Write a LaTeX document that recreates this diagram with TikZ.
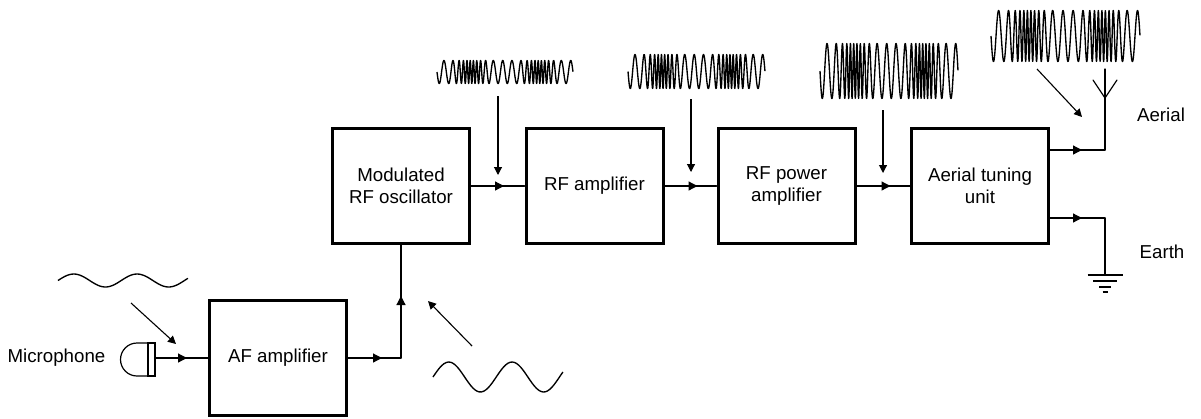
\documentclass[tikz,border=0pt]{standalone}
\usepackage{fontspec}
\setmainfont{Liberation Sans}
\usetikzlibrary{arrows.meta, positioning, calc, decorations.markings}
\tikzset{
  block/.style={draw, line width=3pt, minimum width=137pt, minimum height=115pt, align=center, inner sep=0pt},
  flowline/.style={line width=1.2pt, line cap=round, postaction={decorate},
    decoration={markings, mark=at position #1 with {\arrow{Triangle[length=9pt,width=9pt]}}}},
  wire/.style={line width=1.2pt, line cap=round},
  pointer/.style={line width=1.1pt, -{Triangle[length=8pt,width=8pt]}},
  signal/.style={line width=1.35pt, line join=round}
}
% modulated carrier between x=#1 and x=#2, centred on y=#3, amplitude #4
\newcommand{\rfwave}[4]{
  \draw[signal] plot[domain=0:1, samples=800, variable=\t]
    ({#1+(#2-#1)*\t},{#3+#4*sin(8640*\t-401*sin(720*\t)+72*sin(1440*\t))});
}
% plain audio wave
\newcommand{\afwave}[4]{
  \draw[signal, smooth] plot[domain=0:1, samples=60, variable=\t]
    ({#1+(#2-#1)*\t},{#3-#4*sin(740*\t)});
}
\begin{document}
\begin{tikzpicture}[x=1pt, y=-1pt, font=\fontsize{18.7}{22}\selectfont]
  \useasboundingbox (0,0) rectangle (1201,418);
  % Blocks
  \node[block] (afamp) at (278,358) {AF amplifier};
  \node[block] (osc) at (401,186) {Modulated\\RF oscillator};
  \node[block] (rfamp) at (594.5,186) {RF amplifier};
  \node[block] (rfpower) at (786.5,186) {RF power\\amplifier};
  \node[block] (atu) at (980,186) {Aerial tuning\\unit};
  % Outer labels
  \node (miclabel) at (56.5,358) {Microphone};
  \node (aeriallabel) at (1161,115) {Aerial};
  \node (earthlabel) at (1162,252) {Earth};
  % Microphone
  \coordinate (micface) at (155,358);
  \draw[line width=1.2pt] (148,343) rectangle (155,376);
  \draw[line width=1.2pt] (148,343) -- (137,343) .. controls (127.9,343) and (120.5,350.4) .. (120.5,359.5)
    .. controls (120.5,368.6) and (127.9,376) .. (137,376) -- (148,376);
  % Signal path
  \draw[flowline=32pt] (micface) -- (afamp.west);
  \coordinate (feed) at (afamp.east -| osc.south);
  \draw[flowline=34pt] (afamp.east) -- (feed);
  \draw[flowline=62pt] (feed) -- (osc.south);
  \draw[flowline=33pt] (osc.east) -- (rfamp.west);
  \draw[flowline=33pt] (rfamp.east) -- (rfpower.west);
  \draw[flowline=34pt] (rfpower.east) -- (atu.west);
  % Aerial
  \coordinate (aerialfoot) at (1105,150);
  \coordinate (aerialfork) at (1105,98);
  \coordinate (aerialtip) at (1105,69);
  \coordinate (aerialleft) at (1093,80);
  \coordinate (aerialright) at (1117,80);
  \draw[flowline=32pt] (aerialfoot -| atu.east) -- (aerialfoot);
  \draw[wire] (aerialfoot) -- (aerialfork) -- (aerialtip);
  \draw[wire] (aerialleft) -- (aerialfork) -- (aerialright);
  % Earth
  \coordinate (earthfoot) at (1105,218);
  \coordinate (earthbar) at (1105,275);
  \draw[flowline=32pt] (earthfoot -| atu.east) -- (earthfoot);
  \draw[wire] (earthfoot) -- (earthbar);
  \foreach \y/\w in {275/17.5, 281/12, 287/6, 292/2.5} {
    \draw[wire, line cap=butt] (1105-\w,\y) -- (1105+\w,\y);
  }
  % Pointers from the waveforms
  \coordinate (micfrom) at (131,303);
  \coordinate (micto) at (176,344);
  \coordinate (affrom) at (472,346);
  \coordinate (afto) at (428,301);
  \coordinate (oscfrom) at (498,96);
  \coordinate (oscto) at (498,175);
  \coordinate (ampfrom) at (691,99);
  \coordinate (ampto) at (691,172);
  \coordinate (powerfrom) at (883,110);
  \coordinate (powerto) at (883,173);
  \coordinate (aerialfrom) at (1037,69);
  \coordinate (aerialto) at (1082,117);
  \foreach \a/\b in {micfrom/micto, affrom/afto, oscfrom/oscto, ampfrom/ampto, powerfrom/powerto, aerialfrom/aerialto} {
    \draw[pointer] (\a) -- (\b);
  }
  % Waveforms
  \afwave{58}{188}{280.5}{6.5}
  \afwave{433}{563}{377}{15}
  \rfwave{437}{573}{72}{11.5}
  \rfwave{628}{765}{71.5}{17}
  \rfwave{820}{958}{71}{27.5}
  \rfwave{991}{1140}{36}{25.5}
\end{tikzpicture}
\end{document}
